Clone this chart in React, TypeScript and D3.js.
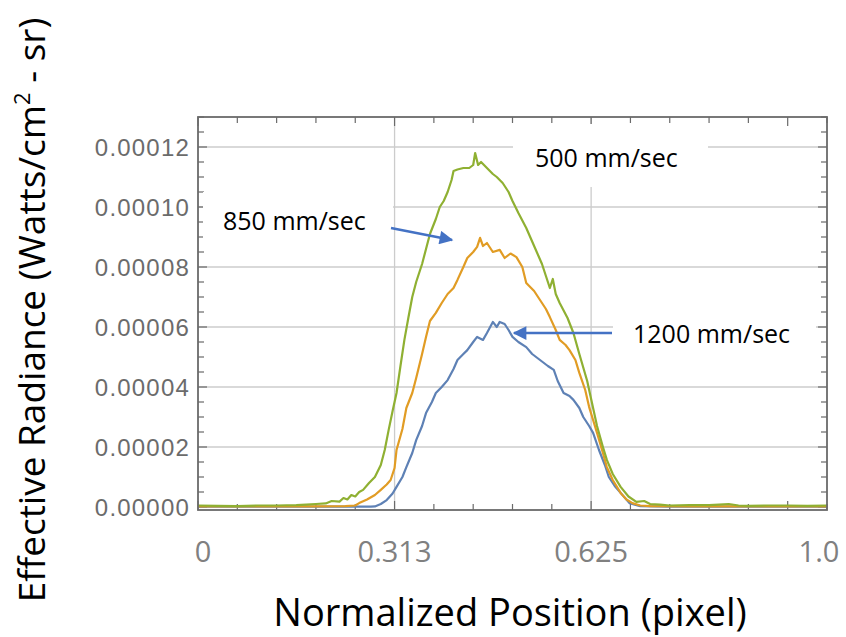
import React from "react";
import * as d3 from "d3";

// x in detector pixel units (0..320), y in 1e-5 W/cm²-sr
const greenX = [0, 10, 20, 30, 40, 50, 55, 60, 65, 68, 72, 74, 76, 78, 80, 82, 84, 87, 90, 93, 95, 97, 99, 101, 103, 105, 107, 109, 111, 114, 116, 118, 121, 123, 125, 127, 129, 130, 132, 135, 138, 140, 141, 142.5, 144, 147, 150, 152, 155, 158, 160, 163, 167, 171, 175, 177, 179, 180.5, 182, 184, 188, 191, 194, 198, 201, 203, 206, 208, 211, 215, 219, 223, 227, 230, 235, 240, 250, 260, 265, 270, 275, 280, 290, 300, 310, 320];
const greenY = [0.05, 0.04, 0.03, 0.05, 0.05, 0.06, 0.08, 0.1, 0.12, 0.2, 0.18, 0.3, 0.25, 0.4, 0.35, 0.5, 0.57, 0.8, 1.0, 1.4, 1.9, 2.57, 3.2, 3.8, 4.7, 5.57, 6.3, 7.0, 7.5, 8.1, 8.6, 9.1, 9.6, 10.0, 10.2, 10.5, 10.9, 11.2, 11.25, 11.3, 11.3, 11.4, 11.8, 11.4, 11.5, 11.3, 11.1, 11.0, 10.8, 10.5, 10.2, 9.8, 9.3, 8.7, 8.1, 7.7, 7.3, 7.6, 7.1, 6.8, 6.3, 5.8, 5.1, 4.2, 3.3, 2.7, 2.0, 1.57, 1.1, 0.67, 0.35, 0.17, 0.2, 0.1, 0.08, 0.05, 0.06, 0.06, 0.08, 0.1, 0.05, 0.04, 0.05, 0.05, 0.04, 0.05];

const orangeX = [0, 20, 40, 60, 75, 80, 82, 86, 90, 93, 96, 98, 100, 101, 104, 106, 109, 111, 114, 116, 118, 121, 124, 127, 130, 132, 135, 137, 140, 142, 143.5, 145, 147, 150, 153.5, 156, 159, 162, 165, 167, 171, 174, 177, 179, 182, 184, 187, 189, 192, 194, 197, 199, 201, 203, 206, 208, 211, 215, 218, 221, 225, 230, 250, 280, 320];
const orangeY = [0.02, 0.02, 0.02, 0.02, 0.03, 0.05, 0.13, 0.25, 0.4, 0.57, 0.75, 0.9, 1.3, 1.9, 2.6, 3.3, 3.8, 4.3, 5.1, 5.67, 6.2, 6.47, 6.8, 7.1, 7.3, 7.57, 8.0, 8.3, 8.5, 8.67, 8.97, 8.7, 8.8, 8.5, 8.57, 8.3, 8.45, 8.33, 8.0, 7.47, 7.2, 6.9, 6.6, 6.33, 5.9, 5.57, 5.4, 5.23, 4.9, 4.47, 3.9, 3.33, 2.9, 2.47, 1.8, 1.33, 0.9, 0.47, 0.25, 0.13, 0.05, 0.03, 0.02, 0.02, 0.02];

const blueX = [0, 20, 40, 60, 80, 88, 90, 93, 96, 99, 101, 104, 106, 109, 111, 114, 116, 119, 121, 124, 127, 130, 132, 135, 137, 140, 142, 145, 147, 150, 152, 153.5, 156, 158, 160, 163, 167, 170, 174, 178, 181, 183, 186, 189, 191, 194, 196, 199, 201, 204, 207, 209, 212, 215, 219.5, 225, 240, 280, 320];
const blueY = [0.01, 0.01, 0.01, 0.01, 0.01, 0.01, 0.02, 0.1, 0.23, 0.45, 0.67, 1.0, 1.33, 1.8, 2.23, 2.7, 3.13, 3.5, 3.8, 4.0, 4.23, 4.6, 4.9, 5.1, 5.23, 5.5, 5.67, 5.57, 5.8, 6.17, 6.0, 6.17, 6.1, 5.9, 5.67, 5.5, 5.33, 5.1, 4.9, 4.7, 4.57, 4.2, 3.8, 3.7, 3.57, 3.3, 3.0, 2.7, 2.47, 1.9, 1.4, 1.0, 0.7, 0.47, 0.13, 0.03, 0.01, 0.01, 0.01];

const series = [
  { name: "1200 mm/sec", xs: blueX, ys: blueY, color: "#5E81B5" },
  { name: "850 mm/sec", xs: orangeX, ys: orangeY, color: "#E19C24" },
  { name: "500 mm/sec", xs: greenX, ys: greenY, color: "#8FB032" },
];

const yMajorTicks = [0, 2, 4, 6, 8, 10, 12];
const yTickLabels = ["0.00000", "0.00002", "0.00004", "0.00006", "0.00008", "0.00010", "0.00012"];
const xGridValues = [100, 200];
const xTickValues = [0, 100, 200, 320];
const xTickLabels = ["0", "0.313", "0.625", "1.0"];

export default function App() {
  const W = 846, H = 637;
  const left = 198, right = 827, top = 117, bottom = 510;
  const x = d3.scaleLinear().domain([0, 320]).range([left, right]);
  const y = d3.scaleLinear().domain([-0.1, 13]).range([bottom, top]);

  const line = d3.line<[number, number]>().x(d => x(d[0])).y(d => y(d[1]));

  const xMinor = d3.range(0, 321, 20);
  const yMinor = d3.range(0, 13.01, 0.5);
  const frameColor = "#6a6a6a";
  const font = "'Open Sans', sans-serif";
  const arrowColor = "#4472C4";

  return (
    <svg width={W} height={H} style={{ position: "absolute", left: 0, top: 0, background: "#fff" }}>
      <defs>
        <marker id="ah" viewBox="0 0 10 10" refX="9" refY="5" markerWidth="6" markerHeight="5.5" orient="auto-start-reverse" markerUnits="strokeWidth">
          <path d="M0,0 L10,5 L0,10 z" fill={arrowColor} />
        </marker>
      </defs>
      {/* grid */}
      {yMajorTicks.filter(v => v > 0).map(v => (
        <line key={"gy" + v} x1={left} x2={right} y1={y(v)} y2={y(v)} stroke="#cccccc" strokeWidth={1.3} />
      ))}
      {xGridValues.map(v => (
        <line key={"gx" + v} x1={x(v)} x2={x(v)} y1={top} y2={bottom} stroke="#cccccc" strokeWidth={1.3} />
      ))}
      {/* ticks */}
      {xMinor.map(v => {
        const len = v % 100 === 0 ? 9 : 6;
        return (
          <g key={"tx" + v}>
            <line x1={x(v)} x2={x(v)} y1={bottom} y2={bottom - len} stroke={frameColor} strokeWidth={1.2} />
            <line x1={x(v)} x2={x(v)} y1={top} y2={top + len} stroke={frameColor} strokeWidth={1.2} />
          </g>
        );
      })}
      {yMinor.map(v => {
        const len = Math.abs(v % 2) < 1e-6 ? 9 : 6;
        return (
          <g key={"ty" + v}>
            <line x1={left} x2={left + len} y1={y(v)} y2={y(v)} stroke={frameColor} strokeWidth={1.2} />
            <line x1={right} x2={right - len} y1={y(v)} y2={y(v)} stroke={frameColor} strokeWidth={1.2} />
          </g>
        );
      })}
      {/* curves */}
      {series.map(s => (
        <path key={s.name} d={line(s.xs.map((v, i) => [v, s.ys[i]] as [number, number])) || ""} fill="none" stroke={s.color} strokeWidth={2.2} strokeLinejoin="round" />
      ))}
      {/* frame */}
      <rect x={left} y={top} width={right - left} height={bottom - top} fill="none" stroke={frameColor} strokeWidth={1.8} />
      {/* y tick labels */}
      {yMajorTicks.map((v, i) => (
        <text key={"yl" + v} x={190} y={y(v)} dy="0.36em" textAnchor="end" fontFamily="'Liberation Sans', Arial, sans-serif" fontSize={24} letterSpacing={1.2} fill="#6b6b6b">
          {yTickLabels[i]}
        </text>
      ))}
      {/* x tick labels */}
      {xTickValues.map((v, i) => (
        <text key={"xl" + v} x={x(v) + (i === 0 ? 5 : i === 3 ? -8 : 0)} y={562} textAnchor="middle" fontFamily={font} fontSize={29} fill="#808080">
          {xTickLabels[i]}
        </text>
      ))}
      {/* annotation boxes */}
      <rect x={513} y={124} width={195} height={63} fill="#fff" />
      <text x={535} y={167} fontFamily={font} fontSize={25} fill="#000">500 mm/sec</text>
      <rect x={203} y={192} width={190} height={55} fill="#fff" />
      <text x={223} y={230} fontFamily={font} fontSize={25} fill="#000">850 mm/sec</text>
      <rect x={613} y={310} width={203} height={50} fill="#fff" />
      <text x={633} y={343} fontFamily={font} fontSize={25} fill="#000">1200 mm/sec</text>
      {/* arrows */}
      <line x1={391} y1={228} x2={452} y2={240} stroke={arrowColor} strokeWidth={2.5} markerEnd="url(#ah)" />
      <line x1={612} y1={333} x2={514} y2={333} stroke={arrowColor} strokeWidth={2.5} markerEnd="url(#ah)" />
      {/* axis titles */}
      <text x={510} y={626} textAnchor="middle" fontFamily={font} fontSize={38} fill="#000">Normalized Position (pixel)</text>
      <text transform="translate(45,310) rotate(-90)" textAnchor="middle" fontFamily={font} fontSize={37} fill="#000">
        Effective Radiance (Watts/cm<tspan dy="-15" fontSize={22}>2</tspan><tspan dy="15"> - sr)</tspan>
      </text>
    </svg>
  );
}
